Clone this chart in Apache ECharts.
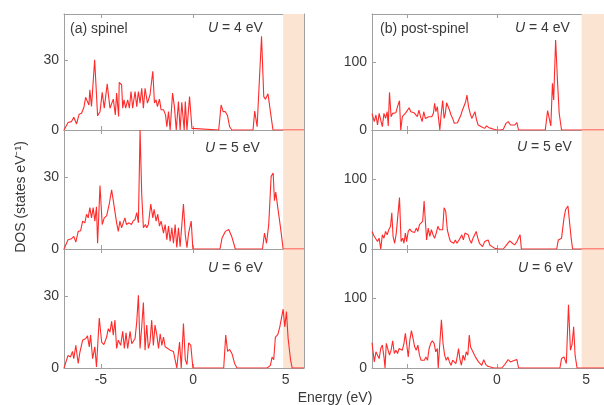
<!DOCTYPE html>
<html><head><meta charset="utf-8">
<script src="https://cdn.jsdelivr.net/npm/echarts@6/dist/echarts.min.js"></script>
<style>html,body{margin:0;padding:0;background:#fff}#c{width:604px;height:405px}</style>
</head><body><div id="c"></div>
<script>
// ---- data ----
const energyTicks = [-5, 0, 5];
const spinelYTicks = [0, 30];
const postYTicks = [0, 100];
const uValues = ['4', '5', '6'];
const spinelGapStart = 4.87;
const postGapStart = 4.75;

const spinelU4 = [[-7,0],[-6.78,3.2],[-6.6,3.6],[-6.47,5.5],[-6.32,2.6],[-6.18,6.8],[-6.05,7.2],[-5.92,9.8],[-5.83,14.1],[-5.73,14.1],[-5.65,10.8],[-5.6,17.3],[-5.51,10.1],[-5.34,30.3],[-5.18,6.1],[-5.05,7.9],[-4.93,16.2],[-4.82,9.4],[-4.66,19.9],[-4.51,9.4],[-4.33,13.3],[-4.22,6.5],[-4.15,15.9],[-4.04,5.8],[-4.01,20.5],[-3.88,19.5],[-3.82,9.4],[-3.75,13],[-3.66,9.4],[-3.55,13],[-3.46,9.4],[-3.37,16.6],[-3.28,9.4],[-3.15,16.6],[-3.06,10.1],[-2.97,16.6],[-2.88,11.6],[-2.79,18],[-2.7,9.4],[-2.61,18],[-2.48,11.6],[-2.34,15.2],[-2.19,25.3],[-2.1,11.6],[-2.01,13],[-1.94,10.1],[-1.83,13.3],[-1.74,8.7],[-1.61,8.7],[-1.5,6.5],[-1.43,1.4],[-1.34,7.9],[-1.25,0],[-1.12,15.9],[-1.02,10.1],[-0.92,0],[-0.8,12.3],[-0.71,0],[-0.62,11.9],[-0.49,0],[-0.43,12.3],[-0.34,0],[-0.2,14.4],[-0.07,0.7],[0,0],[1.38,0],[1.51,10.8],[1.62,7.9],[1.74,7.9],[1.86,6.1],[1.97,1.4],[2.1,0],[3.24,0],[3.33,8.2],[3.46,1.4],[3.55,2],[3.7,40.4],[3.82,14.4],[3.91,13.3],[4.05,15.6],[4.18,7.9],[4.32,0],[6,0]];

const spinelU5 = [[-7,0],[-6.78,3.9],[-6.6,4.3],[-6.47,5.3],[-6.36,2.9],[-6.23,7.4],[-6.1,7.7],[-5.99,11.7],[-5.87,11],[-5.78,14.6],[-5.69,13.1],[-5.6,17.4],[-5.51,13.1],[-5.42,17.4],[-5.33,11.7],[-5.24,17.7],[-5.18,2.4],[-5.05,26.7],[-4.93,10.3],[-4.82,13.1],[-4.69,13.9],[-4.55,18.9],[-4.42,24.9],[-4.29,18.2],[-4.15,11],[-4.06,7.4],[-3.97,11.7],[-3.88,8.9],[-3.79,11],[-3.7,13.1],[-3.62,10.3],[-3.47,11],[-3.35,10.3],[-3.26,11.7],[-3.15,12.4],[-3.06,15.3],[-2.97,11],[-2.88,50],[-2.79,23],[-2.7,8.9],[-2.59,10.3],[-2.52,8.9],[-2.43,10.3],[-2.3,18.9],[-2.19,13.1],[-2.12,16.7],[-2.01,11.7],[-1.92,14.6],[-1.83,9.6],[-1.74,11.7],[-1.61,6.7],[-1.52,10.3],[-1.43,3.9],[-1.34,9.6],[-1.25,3.2],[-1.16,8.9],[-1.07,2.4],[-0.98,10.3],[-0.89,0.6],[-0.8,8.9],[-0.71,1],[-0.53,18.9],[-0.43,6],[-0.34,0.6],[-0.25,6.7],[-0.11,11.7],[-0.02,0],[1.45,0],[1.56,4.6],[1.74,7.4],[1.92,8.2],[2.1,4.9],[2.28,0],[3.75,0],[3.86,6.7],[3.97,2.4],[4.09,10.3],[4.22,30.5],[4.33,31.9],[4.4,20.3],[4.47,23.9],[4.58,17.4],[4.73,8.9],[4.87,0],[6,0]];

const spinelU6 = [[-7,0],[-6.78,5.3],[-6.65,4.6],[-6.54,7],[-6.47,3.9],[-6.36,9.5],[-6.23,1.9],[-6.14,6.6],[-5.99,11.7],[-5.82,12.4],[-5.73,13.5],[-5.63,8.9],[-5.56,13.8],[-5.45,3.9],[-5.33,8.9],[-5.24,0.4],[-5.18,0],[-5.09,21],[-4.96,10.9],[-4.84,9.8],[-4.69,13],[-4.6,16.5],[-4.51,15.1],[-4.42,19.6],[-4.33,13.8],[-4.24,20.1],[-4.15,8.2],[-4.06,11.7],[-3.93,9.5],[-3.82,15.4],[-3.73,8.2],[-3.64,14.8],[-3.55,8.2],[-3.42,15.4],[-3.33,10.2],[-3.24,9.5],[-3.15,12.4],[-3.06,19.3],[-2.97,30.6],[-2.88,8.2],[-2.79,17.3],[-2.7,27.5],[-2.61,7.5],[-2.52,18],[-2.43,8.2],[-2.34,10.9],[-2.25,20.1],[-2.16,9.5],[-2.07,18],[-1.97,13.8],[-1.88,8.2],[-1.79,14.4],[-1.7,9.5],[-1.61,13],[-1.52,8.9],[-1.43,8.5],[-1.25,7.5],[-1.07,6.9],[-0.98,7.5],[-0.89,0],[-0.74,10.9],[-0.65,0],[-0.53,18.7],[-0.43,3.5],[-0.34,1.4],[-0.25,10.6],[-0.13,9.5],[-0.02,0],[1.65,0],[1.76,13.8],[1.86,7],[1.97,7.8],[2.1,6],[2.24,1.9],[2.37,0],[4.0,0],[4.18,1.1],[4.27,4.6],[4.36,3.5],[4.45,13],[4.58,14],[4.69,17.3],[4.76,16.5],[4.87,24.7],[4.96,17.3],[5.05,23.7],[5.14,12.4],[5.27,3.5],[5.36,0],[6,0]];

const postU4 = [[-7,24],[-6.87,12.2],[-6.78,22],[-6.69,7.3],[-6.6,24.4],[-6.51,14.6],[-6.42,4.9],[-6.33,24.4],[-6.24,17],[-6.15,26.8],[-6.09,5.9],[-6.02,55.1],[-5.93,19.5],[-5.84,24.4],[-5.75,22],[-5.66,25.4],[-5.57,34.2],[-5.46,43],[-5.39,0],[-5.3,19.5],[-5.19,17],[-5.1,25.4],[-5.01,24.4],[-4.92,32.7],[-4.83,26.8],[-4.74,28.3],[-4.65,25.4],[-4.55,24.4],[-4.46,19.5],[-4.37,29.3],[-4.28,19.5],[-4.19,12.2],[-4.1,26.8],[-4.01,17],[-3.92,19.5],[-3.83,19.5],[-3.74,22],[-3.65,19.5],[-3.56,24.4],[-3.49,39],[-3.42,26.8],[-3.34,34.2],[-3.25,12.2],[-3.2,0],[-3.11,26.8],[-3.04,43],[-2.96,17],[-2.89,24.4],[-2.82,40],[-2.75,41.5],[-2.66,29.3],[-2.57,22],[-2.48,17],[-2.39,9.8],[-2.3,12.2],[-2.21,10.7],[-2.11,12.2],[-2.02,22],[-1.93,29.3],[-1.84,31.7],[-1.75,41.5],[-1.68,51.2],[-1.59,34.2],[-1.5,24.4],[-1.41,17],[-1.32,14.6],[-1.23,26.8],[-1.14,14.6],[-1.05,7.3],[-0.96,8.8],[-0.87,4.9],[-0.78,7.3],[-0.69,2.4],[-0.58,5.9],[-0.45,3.4],[-0.32,2.4],[-0.18,1],[0,0],[0.18,0],[0.36,1],[0.51,9.8],[0.63,12.2],[0.76,7.3],[0.87,4.9],[0.99,7.3],[1.12,10.7],[1.21,0],[2.71,0],[2.84,28.3],[2.93,28],[3.02,5.9],[3.11,68.3],[3.18,43.9],[3.29,131.8],[3.4,68.3],[3.49,24.4],[3.62,0],[6,0]];

const postU5 = [[-7,25.1],[-6.87,17.9],[-6.78,20.3],[-6.69,10.6],[-6.6,15.5],[-6.51,0],[-6.42,20.3],[-6.33,15.5],[-6.24,25.1],[-6.15,20.3],[-6.06,27.5],[-5.96,32.4],[-5.89,51.7],[-5.82,17.9],[-5.73,8.2],[-5.64,22.7],[-5.55,20.3],[-5.46,73.4],[-5.37,10.6],[-5.28,15.5],[-5.21,8.2],[-5.13,22.7],[-5.06,10.6],[-4.97,25.1],[-4.88,28.5],[-4.79,25.1],[-4.7,27.5],[-4.61,23.7],[-4.52,29.9],[-4.43,25.1],[-4.34,34.8],[-4.25,32.4],[-4.16,39.6],[-4.08,68.6],[-4.01,39.6],[-3.94,13],[-3.85,29.9],[-3.76,17.9],[-3.67,27.5],[-3.58,20.3],[-3.49,15.5],[-3.4,22.7],[-3.31,32.4],[-3.22,27.5],[-3.13,27.5],[-3.04,27.5],[-2.96,58.9],[-2.87,54.1],[-2.78,27.5],[-2.69,17.9],[-2.6,10.6],[-2.51,13],[-2.42,8.2],[-2.33,13],[-2.24,8.2],[-2.15,10.6],[-2.06,15.5],[-1.97,20.3],[-1.88,13],[-1.79,22.7],[-1.7,25.1],[-1.61,20.3],[-1.52,13],[-1.43,8.2],[-1.34,15.5],[-1.25,15.5],[-1.16,25.1],[-1.07,15.5],[-0.98,8.2],[-0.89,5.8],[-0.8,3.4],[-0.69,10.6],[-0.58,8.2],[-0.49,13],[-0.4,5.8],[-0.27,3.4],[-0.13,1],[0.09,0],[0.36,0],[0.54,5.8],[0.72,11.6],[0.87,8.2],[0.99,5.8],[1.12,10.6],[1.23,8.2],[1.3,20.3],[1.37,0],[3.35,0],[3.44,13],[3.62,15.5],[3.76,44.4],[3.85,56.5],[3.98,61.4],[4.07,58.9],[4.16,15.5],[4.24,0],[6,0]];

const postU6 = [[-7,36],[-6.87,8.7],[-6.78,23.1],[-6.69,18.3],[-6.6,13.5],[-6.51,27.9],[-6.42,32.7],[-6.33,15.9],[-6.27,0],[-6.2,35.2],[-6.11,32.7],[-6.02,18.3],[-5.93,25.5],[-5.84,38.9],[-5.75,20.7],[-5.66,25.5],[-5.57,20.7],[-5.48,27.9],[-5.39,30.3],[-5.3,25.5],[-5.21,35.2],[-5.13,49.6],[-5.06,35.2],[-4.97,15.9],[-4.88,39.9],[-4.79,53.4],[-4.7,42.3],[-4.61,30.3],[-4.52,25.5],[-4.43,32.7],[-4.34,18.3],[-4.25,11.1],[-4.16,13.5],[-4.07,11.1],[-3.98,15.9],[-3.89,11.1],[-3.8,27.9],[-3.71,35.2],[-3.62,38.9],[-3.52,35.2],[-3.43,23.1],[-3.34,27.9],[-3.29,0],[-3.2,35.2],[-3.11,68.7],[-3.02,35.2],[-2.93,18.3],[-2.84,11.1],[-2.75,15.9],[-2.66,8.7],[-2.57,3.9],[-2.48,11.1],[-2.39,8.7],[-2.3,6.3],[-2.21,18.3],[-2.15,27.9],[-2.08,13.5],[-1.99,3.9],[-1.9,18.3],[-1.81,11.1],[-1.72,23.1],[-1.63,18.3],[-1.55,47.2],[-1.48,30.3],[-1.39,27.9],[-1.3,20.7],[-1.21,15.9],[-1.12,13.5],[-1.03,8.7],[-0.94,6.3],[-0.85,3.9],[-0.74,12],[-0.63,5.3],[-0.51,2.4],[-0.36,1.4],[-0.18,0],[0.27,0],[0.45,5.3],[0.63,12],[0.76,8.7],[0.87,6.3],[0.99,11.1],[1.12,12],[1.21,0],[3.53,0],[3.62,13.5],[3.76,15.9],[3.89,6.3],[4.01,90.4],[4.12,25.5],[4.21,33.6],[4.3,59],[4.38,18.3],[4.49,0],[6,0]];

// ---- layout / style ----
const FONT = '"Liberation Sans", Arial, sans-serif';
const AX = '#a0a0a0';
const TXT = '#3a3a3a';
const LINE = '#ff2a2a';
const SHADE = '#fce4d3';
const X_MIN = -7, X_MAX = 6;

const panels = [
  {data: spinelU4, grid: {left: 64, top: 14, width: 240, height: 116}, ymax: 50, yt: spinelYTicks, gap: spinelGapStart, bottom: false},
  {data: spinelU5, grid: {left: 64, top: 130, width: 240, height: 119}, ymax: 50, yt: spinelYTicks, gap: spinelGapStart, bottom: false},
  {data: spinelU6, grid: {left: 64, top: 249, width: 240, height: 119}, ymax: 50, yt: spinelYTicks, gap: spinelGapStart, bottom: true},
  {data: postU4, grid: {left: 372, top: 14, width: 239, height: 116}, ymax: 170, yt: postYTicks, gap: postGapStart, bottom: false},
  {data: postU5, grid: {left: 372, top: 130, width: 239, height: 119}, ymax: 170, yt: postYTicks, gap: postGapStart, bottom: false},
  {data: postU6, grid: {left: 372, top: 249, width: 239, height: 119}, ymax: 170, yt: postYTicks, gap: postGapStart, bottom: true}
];

const grids = [], xAxes = [], yAxes = [], series = [];
panels.forEach((p, i) => {
  grids.push(Object.assign({containLabel: false}, p.grid));
  const tick = {show: true, inside: true, length: 4, lineStyle: {color: AX, width: 1}};
  const line = {show: true, onZero: false, lineStyle: {color: AX, width: 1}};
  xAxes.push({type: 'value', gridIndex: i, min: X_MIN, max: X_MAX, position: 'bottom',
    axisLine: line, axisTick: Object.assign({customValues: energyTicks}, tick),
    axisLabel: {show: p.bottom, customValues: energyTicks, margin: 5, fontSize: 14, color: TXT, fontFamily: FONT},
    splitLine: {show: false}});
  xAxes.push({type: 'value', gridIndex: i, min: X_MIN, max: X_MAX, position: 'top',
    axisLine: line, axisTick: Object.assign({customValues: energyTicks}, tick),
    axisLabel: {show: false}, splitLine: {show: false}});
  yAxes.push({type: 'value', gridIndex: i, min: 0, max: p.ymax, position: 'left',
    axisLine: line, axisTick: Object.assign({customValues: p.yt}, tick),
    axisLabel: {show: true, customValues: p.yt, margin: 5, fontSize: 14, color: TXT, fontFamily: FONT},
    splitLine: {show: false}});
  yAxes.push({type: 'value', gridIndex: i, min: 0, max: p.ymax, position: 'right',
    axisLine: line, axisTick: Object.assign({customValues: p.yt}, tick),
    axisLabel: {show: false}, splitLine: {show: false}});
  series.push({type: 'line', xAxisIndex: 2 * i, yAxisIndex: 2 * i, data: p.data,
    showSymbol: false, symbol: 'none', clip: true, z: 3,
    lineStyle: {color: LINE, width: 1.1},
    markArea: {silent: true, itemStyle: {color: SHADE, opacity: 1}, label: {show: false},
      data: [[{xAxis: p.gap}, {xAxis: X_MAX}]]}});
});

function uText(x, y, v) {
  return {type: 'text', x: x, y: y, z: 10,
    style: {text: '{i|U}{n| = ' + v + ' eV}', verticalAlign: 'middle', align: 'left',
      rich: {i: {fontStyle: 'italic', fontSize: 14, fontFamily: FONT, fill: TXT},
             n: {fontSize: 14, fontFamily: FONT, fill: TXT}}}};
}
const graphics = [
  {type: 'text', x: 70, y: 29, z: 10, style: {text: '(a) spinel', font: '14px ' + FONT, fill: TXT, verticalAlign: 'middle'}},
  {type: 'text', x: 380, y: 29, z: 10, style: {text: '(b) post-spinel', font: '14px ' + FONT, fill: TXT, verticalAlign: 'middle'}},
  uText(208, 28, uValues[0]), uText(205, 148, uValues[1]), uText(208, 268, uValues[2]),
  uText(515, 28, uValues[0]), uText(517, 147, uValues[1]), uText(518, 268, uValues[2]),
  {type: 'text', x: 335, y: 398, z: 10, style: {text: 'Energy (eV)', font: '14px ' + FONT, fill: TXT, align: 'center', verticalAlign: 'middle'}},
  {type: 'text', x: 21, y: 197, rotation: Math.PI / 2, z: 10, style: {text: 'DOS (states eV⁻¹)', font: '14px ' + FONT, fill: TXT, align: 'center', verticalAlign: 'middle'}}
];

const chart = echarts.init(document.getElementById('c'), null, {renderer: 'canvas'});
chart.setOption({animation: false, backgroundColor: '#fff', grid: grids, xAxis: xAxes, yAxis: yAxes, series: series, graphic: graphics});
</script></body></html>
